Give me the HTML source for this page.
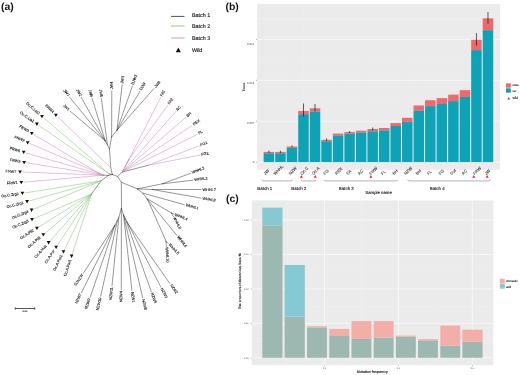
<!DOCTYPE html><html><head><meta charset="utf-8"><title>Figure</title>
<style>html,body{margin:0;padding:0;background:#fff}svg{display:block}text{font-family:"Liberation Sans", Arial, sans-serif}</style></head><body>
<svg width="520" height="375" viewBox="0 0 520 375" text-rendering="geometricPrecision">
<rect width="520" height="375" fill="#fff"/>
<polyline points="112.3,174.5 110.8,167.8 109.5,148.9" fill="none" stroke="#262626" stroke-width="0.48" stroke-linecap="round" stroke-linejoin="round"/>
<line x1="110.8" y1="167.8" x2="57.8" y2="117.0" stroke="#c87ab4" stroke-width="0.48" stroke-linecap="round"/>
<polygon points="54.0,113.7 57.8,113.7 55.9,117.0" fill="#111"/>
<text x="53.2" y="112.6" font-size="3.8" fill="#1a1a1a" stroke="#1a1a1a" stroke-width="0.12" text-anchor="end" dominant-baseline="central" transform="rotate(43.8 53.2 112.6)">FRW4</text>
<line x1="109.5" y1="148.9" x2="105.3" y2="140.9" stroke="#262626" stroke-width="0.48" stroke-linecap="round"/>
<line x1="105.3" y1="140.9" x2="70.2" y2="111.2" stroke="#262626" stroke-width="0.48" stroke-linecap="round"/>
<text x="69.1" y="110.2" font-size="3.8" fill="#1a1a1a" stroke="#1a1a1a" stroke-width="0.12" text-anchor="end" dominant-baseline="central" transform="rotate(40.2 69.1 110.2)">JW1</text>
<line x1="105.3" y1="140.9" x2="69.5" y2="97.1" stroke="#262626" stroke-width="0.48" stroke-linecap="round"/>
<text x="68.6" y="95.9" font-size="3.8" fill="#1a1a1a" stroke="#1a1a1a" stroke-width="0.12" text-anchor="end" dominant-baseline="central" transform="rotate(50.7 68.6 95.9)">JW7</text>
<line x1="105.3" y1="140.9" x2="81.3" y2="97.4" stroke="#262626" stroke-width="0.48" stroke-linecap="round"/>
<text x="80.6" y="96.1" font-size="3.8" fill="#1a1a1a" stroke="#1a1a1a" stroke-width="0.12" text-anchor="end" dominant-baseline="central" transform="rotate(61.1 80.6 96.1)">JW2</text>
<line x1="105.3" y1="140.9" x2="92.1" y2="98.5" stroke="#262626" stroke-width="0.48" stroke-linecap="round"/>
<text x="91.7" y="97.1" font-size="3.8" fill="#1a1a1a" stroke="#1a1a1a" stroke-width="0.12" text-anchor="end" dominant-baseline="central" transform="rotate(72.7 91.7 97.1)">JW6</text>
<line x1="107.4" y1="144.8" x2="101.4" y2="98.5" stroke="#262626" stroke-width="0.48" stroke-linecap="round"/>
<text x="101.2" y="97.0" font-size="3.8" fill="#1a1a1a" stroke="#1a1a1a" stroke-width="0.12" text-anchor="end" dominant-baseline="central" transform="rotate(82.6 101.2 97.0)">JW5</text>
<line x1="109.5" y1="148.9" x2="111.6" y2="137.0" stroke="#262626" stroke-width="0.48" stroke-linecap="round"/>
<line x1="111.6" y1="137.0" x2="111.8" y2="90.8" stroke="#262626" stroke-width="0.48" stroke-linecap="round"/>
<text x="111.8" y="89.3" font-size="3.8" fill="#1a1a1a" stroke="#1a1a1a" stroke-width="0.12" text-anchor="start" dominant-baseline="central" transform="rotate(-89.8 111.8 89.3)">JW4</text>
<line x1="111.6" y1="137.0" x2="117.0" y2="130.3" stroke="#262626" stroke-width="0.48" stroke-linecap="round"/>
<line x1="117.0" y1="130.3" x2="122.1" y2="84.9" stroke="#262626" stroke-width="0.48" stroke-linecap="round"/>
<text x="122.3" y="83.4" font-size="3.8" fill="#1a1a1a" stroke="#1a1a1a" stroke-width="0.12" text-anchor="start" dominant-baseline="central" transform="rotate(-83.6 122.3 83.4)">JW3</text>
<line x1="117.0" y1="130.3" x2="132.4" y2="86.1" stroke="#262626" stroke-width="0.48" stroke-linecap="round"/>
<text x="132.9" y="84.7" font-size="3.8" fill="#1a1a1a" stroke="#1a1a1a" stroke-width="0.12" text-anchor="start" dominant-baseline="central" transform="rotate(-70.8 132.9 84.7)">DJW2</text>
<line x1="117.0" y1="130.3" x2="139.9" y2="91.3" stroke="#262626" stroke-width="0.48" stroke-linecap="round"/>
<text x="140.7" y="90.0" font-size="3.8" fill="#1a1a1a" stroke="#1a1a1a" stroke-width="0.12" text-anchor="start" dominant-baseline="central" transform="rotate(-59.6 140.7 90.0)">DJW</text>
<line x1="117.0" y1="130.3" x2="154.0" y2="88.5" stroke="#262626" stroke-width="0.48" stroke-linecap="round"/>
<text x="155.0" y="87.4" font-size="3.8" fill="#1a1a1a" stroke="#1a1a1a" stroke-width="0.12" text-anchor="start" dominant-baseline="central" transform="rotate(-48.5 155.0 87.4)">JW8</text>
<line x1="112.3" y1="174.5" x2="109.1" y2="173.9" stroke="#262626" stroke-width="0.48" stroke-linecap="round"/>
<line x1="109.1" y1="173.9" x2="39.0" y2="125.6" stroke="#74bd5c" stroke-width="0.48" stroke-linecap="round"/>
<polygon points="35.0,122.6 38.8,122.6 36.9,125.9" fill="#111"/>
<text x="33.9" y="122.0" font-size="3.8" fill="#1a1a1a" stroke="#1a1a1a" stroke-width="0.12" text-anchor="end" dominant-baseline="central" transform="rotate(34.6 33.9 122.0)">Oc.C.Lia1</text>
<line x1="109.1" y1="173.9" x2="44.0" y2="118.1" stroke="#74bd5c" stroke-width="0.48" stroke-linecap="round"/>
<polygon points="40.1,114.9 43.9,114.9 42.0,118.2" fill="#111"/>
<text x="39.2" y="114.0" font-size="3.8" fill="#1a1a1a" stroke="#1a1a1a" stroke-width="0.12" text-anchor="end" dominant-baseline="central" transform="rotate(40.6 39.2 114.0)">Oc.C.Lia2</text>
<polyline points="112.3,174.5 108.6,175.4 103.4,175.2" fill="none" stroke="#262626" stroke-width="0.48" stroke-linecap="round" stroke-linejoin="round"/>
<line x1="103.4" y1="175.2" x2="98.2" y2="172.8" stroke="#6a4a68" stroke-width="0.48" stroke-linecap="round"/>
<line x1="98.2" y1="172.8" x2="34.0" y2="134.8" stroke="#c87ab4" stroke-width="0.48" stroke-linecap="round"/>
<polygon points="29.9,132.0 33.7,132.0 31.8,135.3" fill="#111"/>
<text x="28.6" y="131.6" font-size="3.8" fill="#1a1a1a" stroke="#1a1a1a" stroke-width="0.12" text-anchor="end" dominant-baseline="central" transform="rotate(30.6 28.6 131.6)">FRW3</text>
<line x1="98.2" y1="172.8" x2="30.1" y2="143.7" stroke="#c87ab4" stroke-width="0.48" stroke-linecap="round"/>
<polygon points="25.8,141.2 29.6,141.2 27.7,144.5" fill="#111"/>
<text x="24.3" y="141.2" font-size="3.8" fill="#1a1a1a" stroke="#1a1a1a" stroke-width="0.12" text-anchor="end" dominant-baseline="central" transform="rotate(23.1 24.3 141.2)">FRW2</text>
<line x1="103.4" y1="175.2" x2="26.2" y2="153.0" stroke="#c87ab4" stroke-width="0.48" stroke-linecap="round"/>
<polygon points="21.8,150.8 25.6,150.8 23.7,154.1" fill="#111"/>
<text x="20.1" y="151.3" font-size="3.8" fill="#1a1a1a" stroke="#1a1a1a" stroke-width="0.12" text-anchor="end" dominant-baseline="central" transform="rotate(16.0 20.1 151.3)">FRW6</text>
<line x1="103.4" y1="175.2" x2="26.7" y2="162.8" stroke="#c87ab4" stroke-width="0.48" stroke-linecap="round"/>
<polygon points="22.2,160.9 26.0,160.9 24.1,164.2" fill="#111"/>
<text x="20.4" y="161.8" font-size="3.8" fill="#1a1a1a" stroke="#1a1a1a" stroke-width="0.12" text-anchor="end" dominant-baseline="central" transform="rotate(9.2 20.4 161.8)">FRW5</text>
<line x1="103.4" y1="175.2" x2="22.6" y2="172.1" stroke="#c87ab4" stroke-width="0.48" stroke-linecap="round"/>
<polygon points="18.1,170.5 21.9,170.5 20.0,173.8" fill="#111"/>
<text x="16.3" y="171.9" font-size="3.8" fill="#1a1a1a" stroke="#1a1a1a" stroke-width="0.12" text-anchor="end" dominant-baseline="central" transform="rotate(2.2 16.3 171.9)">FRW7</text>
<line x1="103.4" y1="175.2" x2="23.9" y2="182.2" stroke="#c87ab4" stroke-width="0.48" stroke-linecap="round"/>
<polygon points="19.4,180.9 23.2,180.9 21.3,184.2" fill="#111"/>
<text x="17.6" y="182.7" font-size="3.8" fill="#1a1a1a" stroke="#1a1a1a" stroke-width="0.12" text-anchor="end" dominant-baseline="central" transform="rotate(355.0 17.6 182.7)">FRW1</text>
<polyline points="109.0,174.9 101.1,180.8 91.5,194.0" fill="none" stroke="#262626" stroke-width="0.48" stroke-linecap="round" stroke-linejoin="round"/>
<line x1="101.1" y1="180.8" x2="25.0" y2="192.9" stroke="#74bd5c" stroke-width="0.48" stroke-linecap="round"/>
<polygon points="20.5,191.8 24.3,191.8 22.4,195.1" fill="#111"/>
<text x="18.7" y="193.9" font-size="3.8" fill="#1a1a1a" stroke="#1a1a1a" stroke-width="0.12" text-anchor="end" dominant-baseline="central" transform="rotate(351.0 18.7 193.9)">Oc.C.Zrg2</text>
<line x1="101.1" y1="180.8" x2="29.6" y2="200.9" stroke="#74bd5c" stroke-width="0.48" stroke-linecap="round"/>
<polygon points="25.2,200.1 29.0,200.1 27.1,203.4" fill="#111"/>
<text x="23.5" y="202.6" font-size="3.8" fill="#1a1a1a" stroke="#1a1a1a" stroke-width="0.12" text-anchor="end" dominant-baseline="central" transform="rotate(344.3 23.5 202.6)">Oc.C.Zrg1</text>
<line x1="101.1" y1="180.8" x2="34.0" y2="209.1" stroke="#74bd5c" stroke-width="0.48" stroke-linecap="round"/>
<polygon points="29.7,208.6 33.5,208.6 31.6,211.9" fill="#111"/>
<text x="28.2" y="211.5" font-size="3.8" fill="#1a1a1a" stroke="#1a1a1a" stroke-width="0.12" text-anchor="end" dominant-baseline="central" transform="rotate(337.1 28.2 211.5)">Oc.C.Zrg4</text>
<line x1="91.5" y1="194.0" x2="34.4" y2="218.5" stroke="#74bd5c" stroke-width="0.48" stroke-linecap="round"/>
<polygon points="30.1,218.0 33.9,218.0 32.0,221.3" fill="#111"/>
<text x="28.6" y="221.0" font-size="3.8" fill="#1a1a1a" stroke="#1a1a1a" stroke-width="0.12" text-anchor="end" dominant-baseline="central" transform="rotate(336.8 28.6 221.0)">Oc.C.Zrg3</text>
<line x1="91.5" y1="194.0" x2="39.1" y2="226.8" stroke="#74bd5c" stroke-width="0.48" stroke-linecap="round"/>
<polygon points="35.0,226.7 38.8,226.7 36.9,230.0" fill="#111"/>
<text x="33.8" y="230.2" font-size="3.8" fill="#1a1a1a" stroke="#1a1a1a" stroke-width="0.12" text-anchor="end" dominant-baseline="central" transform="rotate(327.9 33.8 230.2)">Oc.A.Pil2</text>
<line x1="91.5" y1="194.0" x2="45.3" y2="233.1" stroke="#74bd5c" stroke-width="0.48" stroke-linecap="round"/>
<polygon points="41.4,233.3 45.2,233.3 43.3,236.6" fill="#111"/>
<text x="40.5" y="237.2" font-size="3.8" fill="#1a1a1a" stroke="#1a1a1a" stroke-width="0.12" text-anchor="end" dominant-baseline="central" transform="rotate(319.8 40.5 237.2)">Oc.A.Pil1</text>
<line x1="91.5" y1="194.0" x2="50.3" y2="240.7" stroke="#74bd5c" stroke-width="0.48" stroke-linecap="round"/>
<polygon points="46.7,241.1 50.5,241.1 48.6,244.4" fill="#111"/>
<text x="46.2" y="245.4" font-size="3.8" fill="#1a1a1a" stroke="#1a1a1a" stroke-width="0.12" text-anchor="end" dominant-baseline="central" transform="rotate(311.4 46.2 245.4)">Oc.A.Hua</text>
<line x1="91.5" y1="194.0" x2="57.5" y2="245.1" stroke="#74bd5c" stroke-width="0.48" stroke-linecap="round"/>
<polygon points="54.2,245.8 58.0,245.8 56.1,249.1" fill="#111"/>
<text x="54.1" y="250.4" font-size="3.8" fill="#1a1a1a" stroke="#1a1a1a" stroke-width="0.12" text-anchor="end" dominant-baseline="central" transform="rotate(303.6 54.1 250.4)">Oc.A.Por</text>
<line x1="91.5" y1="194.0" x2="64.6" y2="249.5" stroke="#74bd5c" stroke-width="0.48" stroke-linecap="round"/>
<polygon points="61.6,250.3 65.4,250.3 63.5,253.6" fill="#111"/>
<text x="61.9" y="255.1" font-size="3.8" fill="#1a1a1a" stroke="#1a1a1a" stroke-width="0.12" text-anchor="end" dominant-baseline="central" transform="rotate(295.8 61.9 255.1)">Oc.A.Por2</text>
<line x1="91.5" y1="194.0" x2="72.4" y2="253.6" stroke="#74bd5c" stroke-width="0.48" stroke-linecap="round"/>
<polygon points="69.7,254.6 73.5,254.6 71.6,257.9" fill="#111"/>
<text x="70.5" y="259.6" font-size="3.8" fill="#1a1a1a" stroke="#1a1a1a" stroke-width="0.12" text-anchor="end" dominant-baseline="central" transform="rotate(287.8 70.5 259.6)">Oc.A.Por1</text>
<polyline points="112.3,174.5 117.6,176.5 122.3,172.0" fill="none" stroke="#262626" stroke-width="0.48" stroke-linecap="round" stroke-linejoin="round"/>
<line x1="122.3" y1="172.0" x2="129.0" y2="159.3" stroke="#262626" stroke-width="0.48" stroke-linecap="round"/>
<line x1="122.3" y1="172.0" x2="148.3" y2="165.3" stroke="#262626" stroke-width="0.48" stroke-linecap="round"/>
<line x1="129.0" y1="159.3" x2="160.6" y2="97.7" stroke="#c87ab4" stroke-width="0.48" stroke-linecap="round"/>
<text x="161.3" y="96.4" font-size="3.8" fill="#1a1a1a" stroke="#1a1a1a" stroke-width="0.12" text-anchor="start" dominant-baseline="central" transform="rotate(-62.8 161.3 96.4)">FA1</text>
<line x1="129.0" y1="159.3" x2="167.7" y2="105.3" stroke="#c87ab4" stroke-width="0.48" stroke-linecap="round"/>
<text x="168.6" y="104.1" font-size="3.8" fill="#1a1a1a" stroke="#1a1a1a" stroke-width="0.12" text-anchor="start" dominant-baseline="central" transform="rotate(-54.4 168.6 104.1)">FA2</text>
<line x1="122.3" y1="172.0" x2="175.8" y2="111.6" stroke="#c87ab4" stroke-width="0.48" stroke-linecap="round"/>
<text x="176.8" y="110.5" font-size="3.8" fill="#1a1a1a" stroke="#1a1a1a" stroke-width="0.12" text-anchor="start" dominant-baseline="central" transform="rotate(-48.5 176.8 110.5)">AC</text>
<line x1="122.3" y1="172.0" x2="185.9" y2="117.4" stroke="#c87ab4" stroke-width="0.48" stroke-linecap="round"/>
<text x="187.0" y="116.4" font-size="3.8" fill="#1a1a1a" stroke="#1a1a1a" stroke-width="0.12" text-anchor="start" dominant-baseline="central" transform="rotate(-40.6 187.0 116.4)">BH</text>
<line x1="122.3" y1="172.0" x2="192.2" y2="125.5" stroke="#c87ab4" stroke-width="0.48" stroke-linecap="round"/>
<text x="193.4" y="124.7" font-size="3.8" fill="#1a1a1a" stroke="#1a1a1a" stroke-width="0.12" text-anchor="start" dominant-baseline="central" transform="rotate(-33.6 193.4 124.7)">REX</text>
<line x1="122.3" y1="172.0" x2="197.3" y2="134.4" stroke="#c87ab4" stroke-width="0.48" stroke-linecap="round"/>
<text x="198.6" y="133.7" font-size="3.8" fill="#1a1a1a" stroke="#1a1a1a" stroke-width="0.12" text-anchor="start" dominant-baseline="central" transform="rotate(-26.6 198.6 133.7)">FL</text>
<line x1="148.3" y1="165.3" x2="199.1" y2="145.8" stroke="#c87ab4" stroke-width="0.48" stroke-linecap="round"/>
<text x="200.5" y="145.3" font-size="3.8" fill="#1a1a1a" stroke="#1a1a1a" stroke-width="0.12" text-anchor="start" dominant-baseline="central" transform="rotate(-21.0 200.5 145.3)">FG1</text>
<line x1="148.3" y1="165.3" x2="199.8" y2="155.1" stroke="#c87ab4" stroke-width="0.48" stroke-linecap="round"/>
<text x="201.3" y="154.8" font-size="3.8" fill="#1a1a1a" stroke="#1a1a1a" stroke-width="0.12" text-anchor="start" dominant-baseline="central" transform="rotate(-11.2 201.3 154.8)">FG2</text>
<polyline points="117.6,176.5 121.3,182.2 121.5,208.5" fill="none" stroke="#262626" stroke-width="0.48" stroke-linecap="round" stroke-linejoin="round"/>
<line x1="121.3" y1="182.2" x2="137.3" y2="188.9" stroke="#262626" stroke-width="0.48" stroke-linecap="round"/>
<line x1="137.3" y1="188.9" x2="162.4" y2="183.8" stroke="#262626" stroke-width="0.48" stroke-linecap="round"/>
<line x1="137.3" y1="188.9" x2="152.3" y2="189.5" stroke="#262626" stroke-width="0.48" stroke-linecap="round"/>
<line x1="162.4" y1="183.8" x2="190.6" y2="173.3" stroke="#262626" stroke-width="0.48" stroke-linecap="round"/>
<text x="192.0" y="172.8" font-size="3.8" fill="#1a1a1a" stroke="#1a1a1a" stroke-width="0.12" text-anchor="start" dominant-baseline="central" transform="rotate(-20.4 192.0 172.8)">WHHL2</text>
<line x1="162.4" y1="183.8" x2="192.9" y2="180.2" stroke="#262626" stroke-width="0.48" stroke-linecap="round"/>
<text x="194.4" y="180.0" font-size="3.8" fill="#1a1a1a" stroke="#1a1a1a" stroke-width="0.12" text-anchor="start" dominant-baseline="central" transform="rotate(-6.7 194.4 180.0)">WHHL3</text>
<line x1="152.3" y1="189.5" x2="201.0" y2="189.5" stroke="#262626" stroke-width="0.48" stroke-linecap="round"/>
<text x="202.5" y="189.5" font-size="3.8" fill="#1a1a1a" stroke="#1a1a1a" stroke-width="0.12" text-anchor="start" dominant-baseline="central" transform="rotate(0.0 202.5 189.5)">WHHL7</text>
<line x1="152.3" y1="189.5" x2="201.0" y2="198.1" stroke="#262626" stroke-width="0.48" stroke-linecap="round"/>
<text x="202.5" y="198.4" font-size="3.8" fill="#1a1a1a" stroke="#1a1a1a" stroke-width="0.12" text-anchor="start" dominant-baseline="central" transform="rotate(10.0 202.5 198.4)">WHHL8</text>
<polyline points="137.3,188.9 142.6,193.0 146.9,198.6 150.3,205.5" fill="none" stroke="#262626" stroke-width="0.48" stroke-linecap="round" stroke-linejoin="round"/>
<line x1="142.6" y1="193.0" x2="184.3" y2="204.7" stroke="#262626" stroke-width="0.48" stroke-linecap="round"/>
<text x="185.7" y="205.1" font-size="3.8" fill="#1a1a1a" stroke="#1a1a1a" stroke-width="0.12" text-anchor="start" dominant-baseline="central" transform="rotate(15.7 185.7 205.1)">WHHL1</text>
<line x1="146.9" y1="198.6" x2="171.4" y2="213.0" stroke="#262626" stroke-width="0.48" stroke-linecap="round"/>
<line x1="171.4" y1="213.0" x2="174.3" y2="214.2" stroke="#262626" stroke-width="0.48" stroke-linecap="round"/>
<text x="175.0" y="214.5" font-size="3.8" fill="#1a1a1a" stroke="#1a1a1a" stroke-width="0.12" text-anchor="start" dominant-baseline="central" transform="rotate(22.5 175.0 214.5)">WHHL4</text>
<line x1="171.4" y1="213.0" x2="173.4" y2="216.6" stroke="#262626" stroke-width="0.48" stroke-linecap="round"/>
<text x="173.8" y="217.3" font-size="3.8" fill="#1a1a1a" stroke="#1a1a1a" stroke-width="0.12" text-anchor="start" dominant-baseline="central" transform="rotate(60.9 173.8 217.3)">WHHL9</text>
<line x1="146.9" y1="198.6" x2="176.9" y2="235.5" stroke="#262626" stroke-width="0.48" stroke-linecap="round"/>
<text x="177.8" y="236.7" font-size="3.8" fill="#1a1a1a" stroke="#1a1a1a" stroke-width="0.12" text-anchor="start" dominant-baseline="central" transform="rotate(50.9 177.8 236.7)">WHHL6</text>
<line x1="150.3" y1="205.5" x2="166.0" y2="241.2" stroke="#262626" stroke-width="0.48" stroke-linecap="round"/>
<line x1="166.0" y1="241.2" x2="168.5" y2="243.8" stroke="#262626" stroke-width="0.48" stroke-linecap="round"/>
<text x="169.1" y="244.4" font-size="3.8" fill="#1a1a1a" stroke="#1a1a1a" stroke-width="0.12" text-anchor="start" dominant-baseline="central" transform="rotate(46.1 169.1 244.4)">WHHL5</text>
<line x1="166.0" y1="241.2" x2="166.4" y2="246.3" stroke="#262626" stroke-width="0.48" stroke-linecap="round"/>
<text x="166.5" y="247.1" font-size="3.8" fill="#1a1a1a" stroke="#1a1a1a" stroke-width="0.12" text-anchor="start" dominant-baseline="central" transform="rotate(85.5 166.5 247.1)">WHHL10</text>
<polyline points="121.4,208.4 118.9,217.1 117.5,220.0 114.9,225.2" fill="none" stroke="#262626" stroke-width="0.48" stroke-linecap="round" stroke-linejoin="round"/>
<line x1="118.9" y1="217.1" x2="112.0" y2="285.8" stroke="#262626" stroke-width="0.48" stroke-linecap="round"/>
<text x="111.9" y="287.3" font-size="3.8" fill="#1a1a1a" stroke="#1a1a1a" stroke-width="0.12" text-anchor="end" dominant-baseline="central" transform="rotate(275.7 111.9 287.3)">NZW11</text>
<line x1="117.5" y1="220.0" x2="100.7" y2="296.2" stroke="#262626" stroke-width="0.48" stroke-linecap="round"/>
<text x="100.4" y="297.7" font-size="3.8" fill="#1a1a1a" stroke="#1a1a1a" stroke-width="0.12" text-anchor="end" dominant-baseline="central" transform="rotate(282.4 100.4 297.7)">NZW10</text>
<line x1="114.9" y1="225.2" x2="83.4" y2="273.1" stroke="#262626" stroke-width="0.48" stroke-linecap="round"/>
<text x="82.6" y="274.4" font-size="3.8" fill="#1a1a1a" stroke="#1a1a1a" stroke-width="0.12" text-anchor="end" dominant-baseline="central" transform="rotate(303.3 82.6 274.4)">DJNZW</text>
<line x1="114.9" y1="225.2" x2="81.5" y2="292.7" stroke="#262626" stroke-width="0.48" stroke-linecap="round"/>
<text x="80.8" y="294.0" font-size="3.8" fill="#1a1a1a" stroke="#1a1a1a" stroke-width="0.12" text-anchor="end" dominant-baseline="central" transform="rotate(296.3 80.8 294.0)">NZW7</text>
<line x1="114.9" y1="225.2" x2="90.1" y2="297.3" stroke="#262626" stroke-width="0.48" stroke-linecap="round"/>
<text x="89.6" y="298.7" font-size="3.8" fill="#1a1a1a" stroke="#1a1a1a" stroke-width="0.12" text-anchor="end" dominant-baseline="central" transform="rotate(289.0 89.6 298.7)">NZW9</text>
<line x1="121.4" y1="208.4" x2="121.3" y2="289.7" stroke="#262626" stroke-width="0.48" stroke-linecap="round"/>
<text x="121.3" y="291.2" font-size="3.8" fill="#1a1a1a" stroke="#1a1a1a" stroke-width="0.12" text-anchor="end" dominant-baseline="central" transform="rotate(270.1 121.3 291.2)">NZW4</text>
<polyline points="121.4,208.4 123.6,215.1 125.2,218.4 127.0,221.8 129.0,225.2" fill="none" stroke="#262626" stroke-width="0.48" stroke-linecap="round" stroke-linejoin="round"/>
<line x1="123.6" y1="215.1" x2="131.9" y2="290.4" stroke="#262626" stroke-width="0.48" stroke-linecap="round"/>
<text x="132.1" y="291.9" font-size="3.8" fill="#1a1a1a" stroke="#1a1a1a" stroke-width="0.12" text-anchor="start" dominant-baseline="central" transform="rotate(83.7 132.1 291.9)">NZW1</text>
<line x1="123.6" y1="215.1" x2="142.7" y2="297.8" stroke="#262626" stroke-width="0.48" stroke-linecap="round"/>
<text x="143.0" y="299.3" font-size="3.8" fill="#1a1a1a" stroke="#1a1a1a" stroke-width="0.12" text-anchor="start" dominant-baseline="central" transform="rotate(77.0 143.0 299.3)">NZW8</text>
<line x1="125.2" y1="218.4" x2="151.3" y2="291.6" stroke="#262626" stroke-width="0.48" stroke-linecap="round"/>
<text x="151.8" y="293.0" font-size="3.8" fill="#1a1a1a" stroke="#1a1a1a" stroke-width="0.12" text-anchor="start" dominant-baseline="central" transform="rotate(70.4 151.8 293.0)">NZW5</text>
<line x1="127.0" y1="221.8" x2="160.8" y2="287.0" stroke="#262626" stroke-width="0.48" stroke-linecap="round"/>
<text x="161.5" y="288.3" font-size="3.8" fill="#1a1a1a" stroke="#1a1a1a" stroke-width="0.12" text-anchor="start" dominant-baseline="central" transform="rotate(62.6 161.5 288.3)">NZW3</text>
<line x1="129.0" y1="225.2" x2="169.8" y2="283.5" stroke="#262626" stroke-width="0.48" stroke-linecap="round"/>
<text x="170.7" y="284.7" font-size="3.8" fill="#1a1a1a" stroke="#1a1a1a" stroke-width="0.12" text-anchor="start" dominant-baseline="central" transform="rotate(55.0 170.7 284.7)">NZW2</text>
<path d="M15.3 307.3v2.4M34.7 307.3v2.4M15.3 308.5H34.7" stroke="#2a2a2a" stroke-width="0.8" fill="none"/>
<text x="24.9" y="312.4" font-size="2.5" fill="#222" stroke="#222" stroke-width="0.08" text-anchor="middle">0.02</text>
<line x1="171" y1="16.4" x2="184.5" y2="16.4" stroke="#262626" stroke-width="0.8"/>
<line x1="171" y1="26.0" x2="184.5" y2="26.0" stroke="#74bd5c" stroke-width="0.8"/>
<line x1="171" y1="38.0" x2="184.5" y2="38.0" stroke="#c87ab4" stroke-width="0.8"/>
<text x="191.9" y="17.3" font-size="5.4" fill="#222" stroke="#222" stroke-width="0.15">Batch 1</text>
<text x="191.9" y="27.7" font-size="5.4" fill="#222" stroke="#222" stroke-width="0.15">Batch 2</text>
<text x="191.9" y="39.6" font-size="5.4" fill="#222" stroke="#222" stroke-width="0.15">Batch 3</text>
<text x="191.9" y="52.0" font-size="5.4" fill="#222" stroke="#222" stroke-width="0.15">Wild</text>
<polygon points="175.8,52.3 180.8,52.3 178.3,47.6" fill="#111"/>
<text x="1" y="10.3" font-size="10.4" font-weight="bold" fill="#111">(a)</text>
<text x="225.5" y="10.3" font-size="10.4" font-weight="bold" fill="#111">(b)</text>
<text x="226" y="202" font-size="10.4" font-weight="bold" fill="#111">(c)</text>
<rect x="257.1" y="4.0" width="242.9" height="165.8" fill="#ebebeb"/>
<line x1="257.1" x2="500.0" y1="162.1" y2="162.1" stroke="#fff" stroke-width="0.6"/>
<line x1="257.1" x2="500.0" y1="141.7" y2="141.7" stroke="#f4f4f4" stroke-width="0.3"/>
<line x1="255.9" x2="257.1" y1="162.1" y2="162.1" stroke="#444" stroke-width="0.4"/>
<line x1="257.1" x2="500.0" y1="121.2" y2="121.2" stroke="#fff" stroke-width="0.6"/>
<line x1="257.1" x2="500.0" y1="100.7" y2="100.7" stroke="#f4f4f4" stroke-width="0.3"/>
<line x1="255.9" x2="257.1" y1="121.2" y2="121.2" stroke="#444" stroke-width="0.4"/>
<line x1="257.1" x2="500.0" y1="80.3" y2="80.3" stroke="#fff" stroke-width="0.6"/>
<line x1="257.1" x2="500.0" y1="59.8" y2="59.8" stroke="#f4f4f4" stroke-width="0.3"/>
<line x1="255.9" x2="257.1" y1="80.3" y2="80.3" stroke="#444" stroke-width="0.4"/>
<line x1="257.1" x2="500.0" y1="39.4" y2="39.4" stroke="#fff" stroke-width="0.6"/>
<line x1="257.1" x2="500.0" y1="19.0" y2="19.0" stroke="#f4f4f4" stroke-width="0.3"/>
<line x1="255.9" x2="257.1" y1="39.4" y2="39.4" stroke="#444" stroke-width="0.4"/>
<text x="254.3" y="163.1" font-size="2.9" fill="#4d4d4d" text-anchor="end">0</text>
<text x="254.3" y="124.4" font-size="2.9" fill="#4d4d4d" text-anchor="end">0.007</text>
<text x="254.3" y="84.1" font-size="2.9" fill="#4d4d4d" text-anchor="end">0.014</text>
<text x="254.3" y="44.7" font-size="2.9" fill="#4d4d4d" text-anchor="end">0.021</text>
<line x1="268.90" x2="268.90" y1="4.0" y2="169.8" stroke="#efefef" stroke-width="0.35"/>
<line x1="280.43" x2="280.43" y1="4.0" y2="169.8" stroke="#efefef" stroke-width="0.35"/>
<line x1="291.96" x2="291.96" y1="4.0" y2="169.8" stroke="#efefef" stroke-width="0.35"/>
<line x1="303.49" x2="303.49" y1="4.0" y2="169.8" stroke="#efefef" stroke-width="0.35"/>
<line x1="315.02" x2="315.02" y1="4.0" y2="169.8" stroke="#efefef" stroke-width="0.35"/>
<line x1="326.55" x2="326.55" y1="4.0" y2="169.8" stroke="#efefef" stroke-width="0.35"/>
<line x1="338.08" x2="338.08" y1="4.0" y2="169.8" stroke="#efefef" stroke-width="0.35"/>
<line x1="349.61" x2="349.61" y1="4.0" y2="169.8" stroke="#efefef" stroke-width="0.35"/>
<line x1="361.14" x2="361.14" y1="4.0" y2="169.8" stroke="#efefef" stroke-width="0.35"/>
<line x1="372.67" x2="372.67" y1="4.0" y2="169.8" stroke="#efefef" stroke-width="0.35"/>
<line x1="384.20" x2="384.20" y1="4.0" y2="169.8" stroke="#efefef" stroke-width="0.35"/>
<line x1="395.73" x2="395.73" y1="4.0" y2="169.8" stroke="#efefef" stroke-width="0.35"/>
<line x1="407.26" x2="407.26" y1="4.0" y2="169.8" stroke="#efefef" stroke-width="0.35"/>
<line x1="418.79" x2="418.79" y1="4.0" y2="169.8" stroke="#efefef" stroke-width="0.35"/>
<line x1="430.32" x2="430.32" y1="4.0" y2="169.8" stroke="#efefef" stroke-width="0.35"/>
<line x1="441.85" x2="441.85" y1="4.0" y2="169.8" stroke="#efefef" stroke-width="0.35"/>
<line x1="453.38" x2="453.38" y1="4.0" y2="169.8" stroke="#efefef" stroke-width="0.35"/>
<line x1="464.91" x2="464.91" y1="4.0" y2="169.8" stroke="#efefef" stroke-width="0.35"/>
<line x1="476.44" x2="476.44" y1="4.0" y2="169.8" stroke="#efefef" stroke-width="0.35"/>
<line x1="487.97" x2="487.97" y1="4.0" y2="169.8" stroke="#efefef" stroke-width="0.35"/>
<rect x="263.65" y="151.9" width="10.50" height="1.4" fill="#f0686b"/>
<rect x="263.65" y="153.3" width="10.50" height="8.8" fill="#0ea2b6"/>
<line x1="268.90" x2="268.90" y1="150.6" y2="153.0" stroke="#1a1a1a" stroke-width="0.7"/>
<text x="265.3" y="175.2" font-size="4.2" fill="#444" stroke="#444" stroke-width="0.1" transform="rotate(-45 265.3 175.2)">JW</text>
<rect x="275.18" y="151.9" width="10.50" height="1.4" fill="#f0686b"/>
<rect x="275.18" y="153.3" width="10.50" height="8.8" fill="#0ea2b6"/>
<line x1="280.43" x2="280.43" y1="150.6" y2="153.0" stroke="#1a1a1a" stroke-width="0.7"/>
<text x="275.2" y="175.2" font-size="4.2" fill="#444" stroke="#444" stroke-width="0.1" transform="rotate(-45 275.2 175.2)">WHHL</text>
<rect x="286.71" y="146.5" width="10.50" height="1.4" fill="#f0686b"/>
<rect x="286.71" y="147.9" width="10.50" height="14.2" fill="#0ea2b6"/>
<line x1="291.96" x2="291.96" y1="145.4" y2="147.4" stroke="#1a1a1a" stroke-width="0.7"/>
<text x="290.4" y="175.2" font-size="4.2" fill="#444" stroke="#444" stroke-width="0.1" transform="rotate(-45 290.4 175.2)">NZW</text>
<rect x="298.24" y="111.0" width="10.50" height="3.2" fill="#f0686b"/>
<rect x="298.24" y="114.2" width="10.50" height="47.9" fill="#0ea2b6"/>
<line x1="303.49" x2="303.49" y1="103.5" y2="116.9" stroke="#1a1a1a" stroke-width="0.7"/>
<text x="301.9" y="175.2" font-size="4.2" fill="#444" stroke="#444" stroke-width="0.1" transform="rotate(-45 301.9 175.2)">Oc.C</text>
<rect x="309.77" y="108.3" width="10.50" height="3.2" fill="#f0686b"/>
<rect x="309.77" y="111.5" width="10.50" height="50.6" fill="#0ea2b6"/>
<line x1="315.02" x2="315.02" y1="104.0" y2="111.5" stroke="#1a1a1a" stroke-width="0.7"/>
<text x="313.4" y="175.2" font-size="4.2" fill="#444" stroke="#444" stroke-width="0.1" transform="rotate(-45 313.4 175.2)">Oc.A</text>
<rect x="321.30" y="139.8" width="10.50" height="1.4" fill="#f0686b"/>
<rect x="321.30" y="141.2" width="10.50" height="20.9" fill="#0ea2b6"/>
<line x1="326.55" x2="326.55" y1="138.4" y2="141.0" stroke="#1a1a1a" stroke-width="0.7"/>
<text x="324.9" y="175.2" font-size="4.2" fill="#444" stroke="#444" stroke-width="0.1" transform="rotate(-45 324.9 175.2)">FG</text>
<rect x="332.83" y="133.6" width="10.50" height="2.2" fill="#f0686b"/>
<rect x="332.83" y="135.8" width="10.50" height="26.3" fill="#0ea2b6"/>
<text x="336.5" y="175.2" font-size="4.2" fill="#444" stroke="#444" stroke-width="0.1" transform="rotate(-45 336.5 175.2)">REX</text>
<rect x="344.36" y="132.0" width="10.50" height="1.6" fill="#f0686b"/>
<rect x="344.36" y="133.6" width="10.50" height="28.5" fill="#0ea2b6"/>
<line x1="349.61" x2="349.61" y1="131.0" y2="133.0" stroke="#1a1a1a" stroke-width="0.7"/>
<text x="348.0" y="175.2" font-size="4.2" fill="#444" stroke="#444" stroke-width="0.1" transform="rotate(-45 348.0 175.2)">FA</text>
<rect x="355.89" y="130.7" width="10.50" height="1.8" fill="#f0686b"/>
<rect x="355.89" y="132.5" width="10.50" height="29.6" fill="#0ea2b6"/>
<text x="359.5" y="175.2" font-size="4.2" fill="#444" stroke="#444" stroke-width="0.1" transform="rotate(-45 359.5 175.2)">AC</text>
<rect x="367.42" y="129.0" width="10.50" height="2.2" fill="#f0686b"/>
<rect x="367.42" y="131.2" width="10.50" height="30.9" fill="#0ea2b6"/>
<line x1="372.67" x2="372.67" y1="127.5" y2="130.5" stroke="#1a1a1a" stroke-width="0.7"/>
<text x="371.1" y="175.2" font-size="4.2" fill="#444" stroke="#444" stroke-width="0.1" transform="rotate(-45 371.1 175.2)">FRW</text>
<rect x="378.95" y="128.0" width="10.50" height="2.4" fill="#f0686b"/>
<rect x="378.95" y="130.4" width="10.50" height="31.7" fill="#0ea2b6"/>
<text x="382.6" y="175.2" font-size="4.2" fill="#444" stroke="#444" stroke-width="0.1" transform="rotate(-45 382.6 175.2)">FL</text>
<rect x="390.48" y="123.1" width="10.50" height="2.9" fill="#f0686b"/>
<rect x="390.48" y="126.0" width="10.50" height="36.1" fill="#0ea2b6"/>
<text x="394.1" y="175.2" font-size="4.2" fill="#444" stroke="#444" stroke-width="0.1" transform="rotate(-45 394.1 175.2)">BH</text>
<rect x="402.01" y="117.8" width="10.50" height="4.1" fill="#f0686b"/>
<rect x="402.01" y="121.9" width="10.50" height="40.2" fill="#0ea2b6"/>
<text x="405.7" y="175.2" font-size="4.2" fill="#444" stroke="#444" stroke-width="0.1" transform="rotate(-45 405.7 175.2)">NZW</text>
<rect x="413.54" y="105.5" width="10.50" height="5.3" fill="#f0686b"/>
<rect x="413.54" y="110.8" width="10.50" height="51.3" fill="#0ea2b6"/>
<text x="417.2" y="175.2" font-size="4.2" fill="#444" stroke="#444" stroke-width="0.1" transform="rotate(-45 417.2 175.2)">BH</text>
<rect x="425.07" y="100.2" width="10.50" height="5.9" fill="#f0686b"/>
<rect x="425.07" y="106.1" width="10.50" height="56.0" fill="#0ea2b6"/>
<text x="428.7" y="175.2" font-size="4.2" fill="#444" stroke="#444" stroke-width="0.1" transform="rotate(-45 428.7 175.2)">FL</text>
<rect x="436.60" y="98.1" width="10.50" height="5.9" fill="#f0686b"/>
<rect x="436.60" y="104.0" width="10.50" height="58.1" fill="#0ea2b6"/>
<text x="440.2" y="175.2" font-size="4.2" fill="#444" stroke="#444" stroke-width="0.1" transform="rotate(-45 440.2 175.2)">FG</text>
<rect x="448.13" y="94.6" width="10.50" height="6.5" fill="#f0686b"/>
<rect x="448.13" y="101.1" width="10.50" height="61.0" fill="#0ea2b6"/>
<text x="451.8" y="175.2" font-size="4.2" fill="#444" stroke="#444" stroke-width="0.1" transform="rotate(-45 451.8 175.2)">Dut</text>
<rect x="459.66" y="90.2" width="10.50" height="6.8" fill="#f0686b"/>
<rect x="459.66" y="97.0" width="10.50" height="65.1" fill="#0ea2b6"/>
<text x="463.3" y="175.2" font-size="4.2" fill="#444" stroke="#444" stroke-width="0.1" transform="rotate(-45 463.3 175.2)">AC</text>
<rect x="471.19" y="39.8" width="10.50" height="10.3" fill="#f0686b"/>
<rect x="471.19" y="50.1" width="10.50" height="112.0" fill="#0ea2b6"/>
<line x1="476.44" x2="476.44" y1="33.2" y2="45.6" stroke="#1a1a1a" stroke-width="0.7"/>
<text x="474.8" y="175.2" font-size="4.2" fill="#444" stroke="#444" stroke-width="0.1" transform="rotate(-45 474.8 175.2)">FRW</text>
<rect x="482.72" y="18.3" width="10.50" height="11.9" fill="#f0686b"/>
<rect x="482.72" y="30.2" width="10.50" height="131.9" fill="#0ea2b6"/>
<line x1="487.97" x2="487.97" y1="12.1" y2="23.7" stroke="#1a1a1a" stroke-width="0.7"/>
<text x="486.4" y="175.2" font-size="4.2" fill="#444" stroke="#444" stroke-width="0.1" transform="rotate(-45 486.4 175.2)">JW</text>
<polygon points="299.9,177.7 302.9,177.7 301.4,175.0" fill="#e3262d"/>
<polygon points="313.7,177.7 316.7,177.7 315.2,175.0" fill="#e3262d"/>
<polygon points="369.4,177.7 372.4,177.7 370.9,175.0" fill="#e3262d"/>
<polygon points="472.2,177.7 475.2,177.7 473.7,175.0" fill="#e3262d"/>
<polygon points="485.7,177.7 488.7,177.7 487.2,175.0" fill="#e3262d"/>
<path d="M261.8 179.7q0.3 1.2 1.6 1.2H290.9q1.3 0 1.6 -1.2" fill="none" stroke="#555" stroke-width="0.45"/>
<path d="M301.0 179.7q0.3 1.2 1.6 1.2H314.6q1.3 0 1.6 -1.2" fill="none" stroke="#555" stroke-width="0.45"/>
<path d="M324.0 179.7q0.3 1.2 1.6 1.2H395.9q1.3 0 1.6 -1.2" fill="none" stroke="#555" stroke-width="0.45"/>
<path d="M407.7 179.7q0.3 1.2 1.6 1.2H488.8q1.3 0 1.6 -1.2" fill="none" stroke="#555" stroke-width="0.45"/>
<text x="264.8" y="189.7" font-size="4.4" fill="#222" stroke="#222" stroke-width="0.13" text-anchor="middle">Batch 1</text>
<text x="298.8" y="189.7" font-size="4.4" fill="#222" stroke="#222" stroke-width="0.13" text-anchor="middle">Batch 2</text>
<text x="346.3" y="189.7" font-size="4.4" fill="#222" stroke="#222" stroke-width="0.13" text-anchor="middle">Batch 3</text>
<text x="437.2" y="189.7" font-size="4.4" fill="#222" stroke="#222" stroke-width="0.13" text-anchor="middle">Batch 4</text>
<text x="378.6" y="194.2" font-size="4.3" fill="#222" stroke="#222" stroke-width="0.13" text-anchor="middle">Sample name</text>
<text x="244.6" y="87.2" font-size="3.4" fill="#222" stroke="#222" stroke-width="0.06" text-anchor="middle" transform="rotate(-90 244.6 87.2)">Theta</text>
<rect x="506" y="83.3" width="4.8" height="4.4" fill="#f0686b"/>
<rect x="506" y="88.3" width="4.8" height="4.4" fill="#0ea2b6"/>
<text x="512.4" y="86.4" font-size="2.6" fill="#222" stroke="#222" stroke-width="0.1">mean</text>
<text x="512.4" y="91.6" font-size="2.7" fill="#222" stroke="#222" stroke-width="0.1">var</text>
<polygon points="507.5,99.4 510.1,99.4 508.8,97.1" fill="#e3262d"/>
<text x="512.4" y="99.1" font-size="3.3" fill="#222" stroke="#222" stroke-width="0.1">wild</text>
<rect x="251.8" y="200.4" width="241.6" height="164.7" fill="#ebebeb"/>
<line x1="251.8" x2="493.4" y1="357.8" y2="357.8" stroke="#fff" stroke-width="0.6"/>
<line x1="251.8" x2="493.4" y1="340.6" y2="340.6" stroke="#f4f4f4" stroke-width="0.3"/>
<line x1="250.6" x2="251.8" y1="357.8" y2="357.8" stroke="#444" stroke-width="0.4"/>
<text x="248.6" y="358.6" font-size="2.3" fill="#4d4d4d" text-anchor="end">0.00</text>
<line x1="251.8" x2="493.4" y1="323.4" y2="323.4" stroke="#fff" stroke-width="0.6"/>
<line x1="251.8" x2="493.4" y1="306.1" y2="306.1" stroke="#f4f4f4" stroke-width="0.3"/>
<line x1="250.6" x2="251.8" y1="323.4" y2="323.4" stroke="#444" stroke-width="0.4"/>
<text x="248.6" y="324.2" font-size="2.3" fill="#4d4d4d" text-anchor="end">0.05</text>
<line x1="251.8" x2="493.4" y1="288.9" y2="288.9" stroke="#fff" stroke-width="0.6"/>
<line x1="251.8" x2="493.4" y1="271.7" y2="271.7" stroke="#f4f4f4" stroke-width="0.3"/>
<line x1="250.6" x2="251.8" y1="288.9" y2="288.9" stroke="#444" stroke-width="0.4"/>
<text x="248.6" y="289.7" font-size="2.3" fill="#4d4d4d" text-anchor="end">0.10</text>
<line x1="251.8" x2="493.4" y1="254.4" y2="254.4" stroke="#fff" stroke-width="0.6"/>
<line x1="251.8" x2="493.4" y1="237.2" y2="237.2" stroke="#f4f4f4" stroke-width="0.3"/>
<line x1="250.6" x2="251.8" y1="254.4" y2="254.4" stroke="#444" stroke-width="0.4"/>
<text x="248.6" y="255.2" font-size="2.3" fill="#4d4d4d" text-anchor="end">0.15</text>
<line x1="251.8" x2="493.4" y1="220.0" y2="220.0" stroke="#fff" stroke-width="0.6"/>
<line x1="251.8" x2="493.4" y1="202.8" y2="202.8" stroke="#f4f4f4" stroke-width="0.3"/>
<line x1="250.6" x2="251.8" y1="220.0" y2="220.0" stroke="#444" stroke-width="0.4"/>
<text x="248.6" y="220.8" font-size="2.3" fill="#4d4d4d" text-anchor="end">0.20</text>
<line x1="324.5" x2="324.5" y1="200.4" y2="365.1" stroke="#fff" stroke-width="0.6"/>
<line x1="324.5" x2="324.5" y1="365.1" y2="366.3" stroke="#444" stroke-width="0.4"/>
<text x="324.5" y="368.9" font-size="2.3" fill="#4d4d4d" text-anchor="middle">0.1</text>
<line x1="398.4" x2="398.4" y1="200.4" y2="365.1" stroke="#fff" stroke-width="0.6"/>
<line x1="398.4" x2="398.4" y1="365.1" y2="366.3" stroke="#444" stroke-width="0.4"/>
<text x="398.4" y="368.9" font-size="2.3" fill="#4d4d4d" text-anchor="middle">0.2</text>
<line x1="472.3" x2="472.3" y1="200.4" y2="365.1" stroke="#fff" stroke-width="0.6"/>
<line x1="472.3" x2="472.3" y1="365.1" y2="366.3" stroke="#444" stroke-width="0.4"/>
<text x="472.3" y="368.9" font-size="2.3" fill="#4d4d4d" text-anchor="middle">0.3</text>
<line x1="287.5" x2="287.5" y1="200.4" y2="365.1" stroke="#f4f4f4" stroke-width="0.3"/>
<line x1="361.5" x2="361.5" y1="200.4" y2="365.1" stroke="#f4f4f4" stroke-width="0.3"/>
<line x1="435.4" x2="435.4" y1="200.4" y2="365.1" stroke="#f4f4f4" stroke-width="0.3"/>
<rect x="262.3" y="225.4" width="20.2" height="132.4" fill="#9db8b1"/>
<rect x="262.3" y="207.7" width="20.2" height="17.7" fill="#84c9d3"/>
<rect x="284.6" y="316.7" width="20.2" height="41.1" fill="#9db8b1"/>
<rect x="284.6" y="265.0" width="20.2" height="51.7" fill="#84c9d3"/>
<rect x="307.0" y="327.5" width="19.9" height="30.3" fill="#9db8b1"/>
<rect x="307.0" y="326.2" width="19.9" height="1.3" fill="#f3aea8"/>
<rect x="329.3" y="336.0" width="20.0" height="21.8" fill="#9db8b1"/>
<rect x="329.3" y="328.9" width="20.0" height="7.1" fill="#f3aea8"/>
<rect x="351.5" y="338.9" width="19.9" height="18.9" fill="#9db8b1"/>
<rect x="351.5" y="321.2" width="19.9" height="17.7" fill="#f3aea8"/>
<rect x="373.7" y="337.6" width="19.9" height="20.2" fill="#9db8b1"/>
<rect x="373.7" y="321.2" width="19.9" height="16.4" fill="#f3aea8"/>
<rect x="395.9" y="336.7" width="19.9" height="21.1" fill="#9db8b1"/>
<rect x="395.9" y="335.6" width="19.9" height="1.1" fill="#f3aea8"/>
<rect x="418.0" y="340.4" width="19.9" height="17.4" fill="#9db8b1"/>
<rect x="418.0" y="339.1" width="19.9" height="1.3" fill="#f3aea8"/>
<rect x="440.3" y="345.8" width="19.9" height="12.0" fill="#9db8b1"/>
<rect x="440.3" y="325.6" width="19.9" height="20.2" fill="#f3aea8"/>
<rect x="462.4" y="341.8" width="20.2" height="16.0" fill="#9db8b1"/>
<rect x="462.4" y="329.7" width="20.2" height="12.1" fill="#f3aea8"/>
<text x="372.3" y="372.9" font-size="3.65" fill="#222" stroke="#222" stroke-width="0.14" text-anchor="middle">Mutation frequency</text>
<text x="240.7" y="281.2" font-size="3.38" fill="#222" stroke="#222" stroke-width="0.14" text-anchor="middle" transform="rotate(-90 240.7 281.2)">The proportion of deleterious Snps %</text>
<rect x="499.8" y="278.8" width="5" height="4.8" fill="#f3aea8"/>
<rect x="499.8" y="284.0" width="5" height="4.7" fill="#84c9d3"/>
<text x="506.1" y="282.2" font-size="2.9" fill="#222" stroke="#222" stroke-width="0.1">domestic</text>
<text x="506.1" y="287.6" font-size="2.9" fill="#222" stroke="#222" stroke-width="0.1">wild</text>
</svg></body></html>
